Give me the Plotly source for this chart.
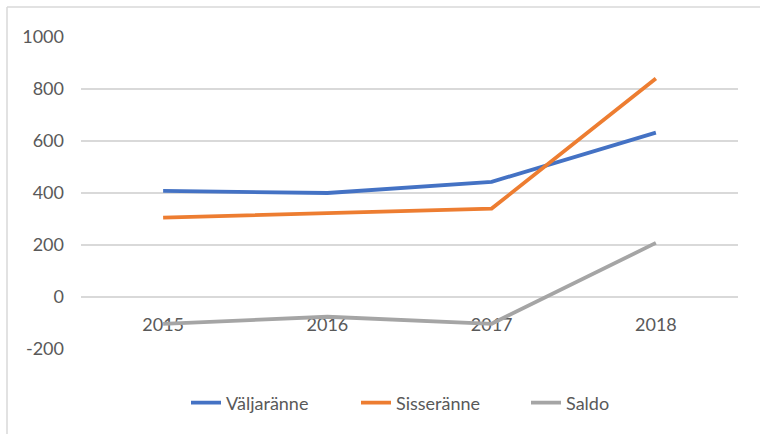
import plotly.graph_objects as go

years = ["2015", "2016", "2017", "2018"]
valjaranne = [408, 400, 443, 632]
sisseranne = [305, 324, 340, 840]
saldo = [-103, -76, -103, 208]

series_names = ["Väljaränne", "Sisseränne", "Saldo"]
colors = ["#4472C4", "#ED7D31", "#A5A5A5"]

y_ticks = [-200, 0, 200, 400, 600, 800, 1000]
y_tick_text = ["-200", "0", "200", "400", "600", "800", "1000"]

FONT = "Lato"
TXT = "#595959"

fig = go.Figure()
for name, vals, col in zip(series_names, [valjaranne, sisseranne, saldo], colors):
    fig.add_trace(go.Scatter(
        x=years, y=vals, name=name, mode="lines",
        line=dict(color=col, width=3.8),
    ))

fig.update_layout(
    width=760, height=434,
    margin=dict(l=81, r=22, t=37, b=85),
    paper_bgcolor="white", plot_bgcolor="white",
    font=dict(family=FONT, size=18, color=TXT),
    showlegend=True,
    legend=dict(orientation="h", x=(186 - 81) / 657, xanchor="left", y=-0.173, yanchor="middle",
                font=dict(family=FONT, size=18, color=TXT),
                entrywidth=125, entrywidthmode="pixels",
                traceorder="normal"),
    xaxis=dict(
        type="category", range=[-0.5, 3.5], showgrid=False, showline=False,
        zeroline=False, anchor="free", position=1/6, ticks="",
        tickfont=dict(family=FONT, size=18, color=TXT), layer="below traces",
        ticklabelstandoff=15,
    ),
    yaxis=dict(
        range=[-200, 1000], tickvals=y_ticks, ticktext=y_tick_text, showgrid=True,
        gridcolor="#D9D9D9", gridwidth=1.6, zeroline=False, showline=False, ticks="",
        tickfont=dict(family=FONT, size=18, color=TXT), ticklabelstandoff=16,
    ),
    shapes=[
        dict(type="line", xref="paper", yref="paper", x0=(7 - 81) / 657, x1=1.1,
             y0=1 + 30 / 312, y1=1 + 30 / 312, line=dict(color="#D9D9D9", width=1.5)),
        dict(type="line", xref="paper", yref="paper", x0=(7 - 81) / 657, x1=(7 - 81) / 657,
             y0=1 + 30 / 312, y1=-0.4, line=dict(color="#D9D9D9", width=1.5)),
    ],
)

fig.write_html("out.html", config={"displayModeBar": False},
               post_script="document.body.style.margin='0';")
